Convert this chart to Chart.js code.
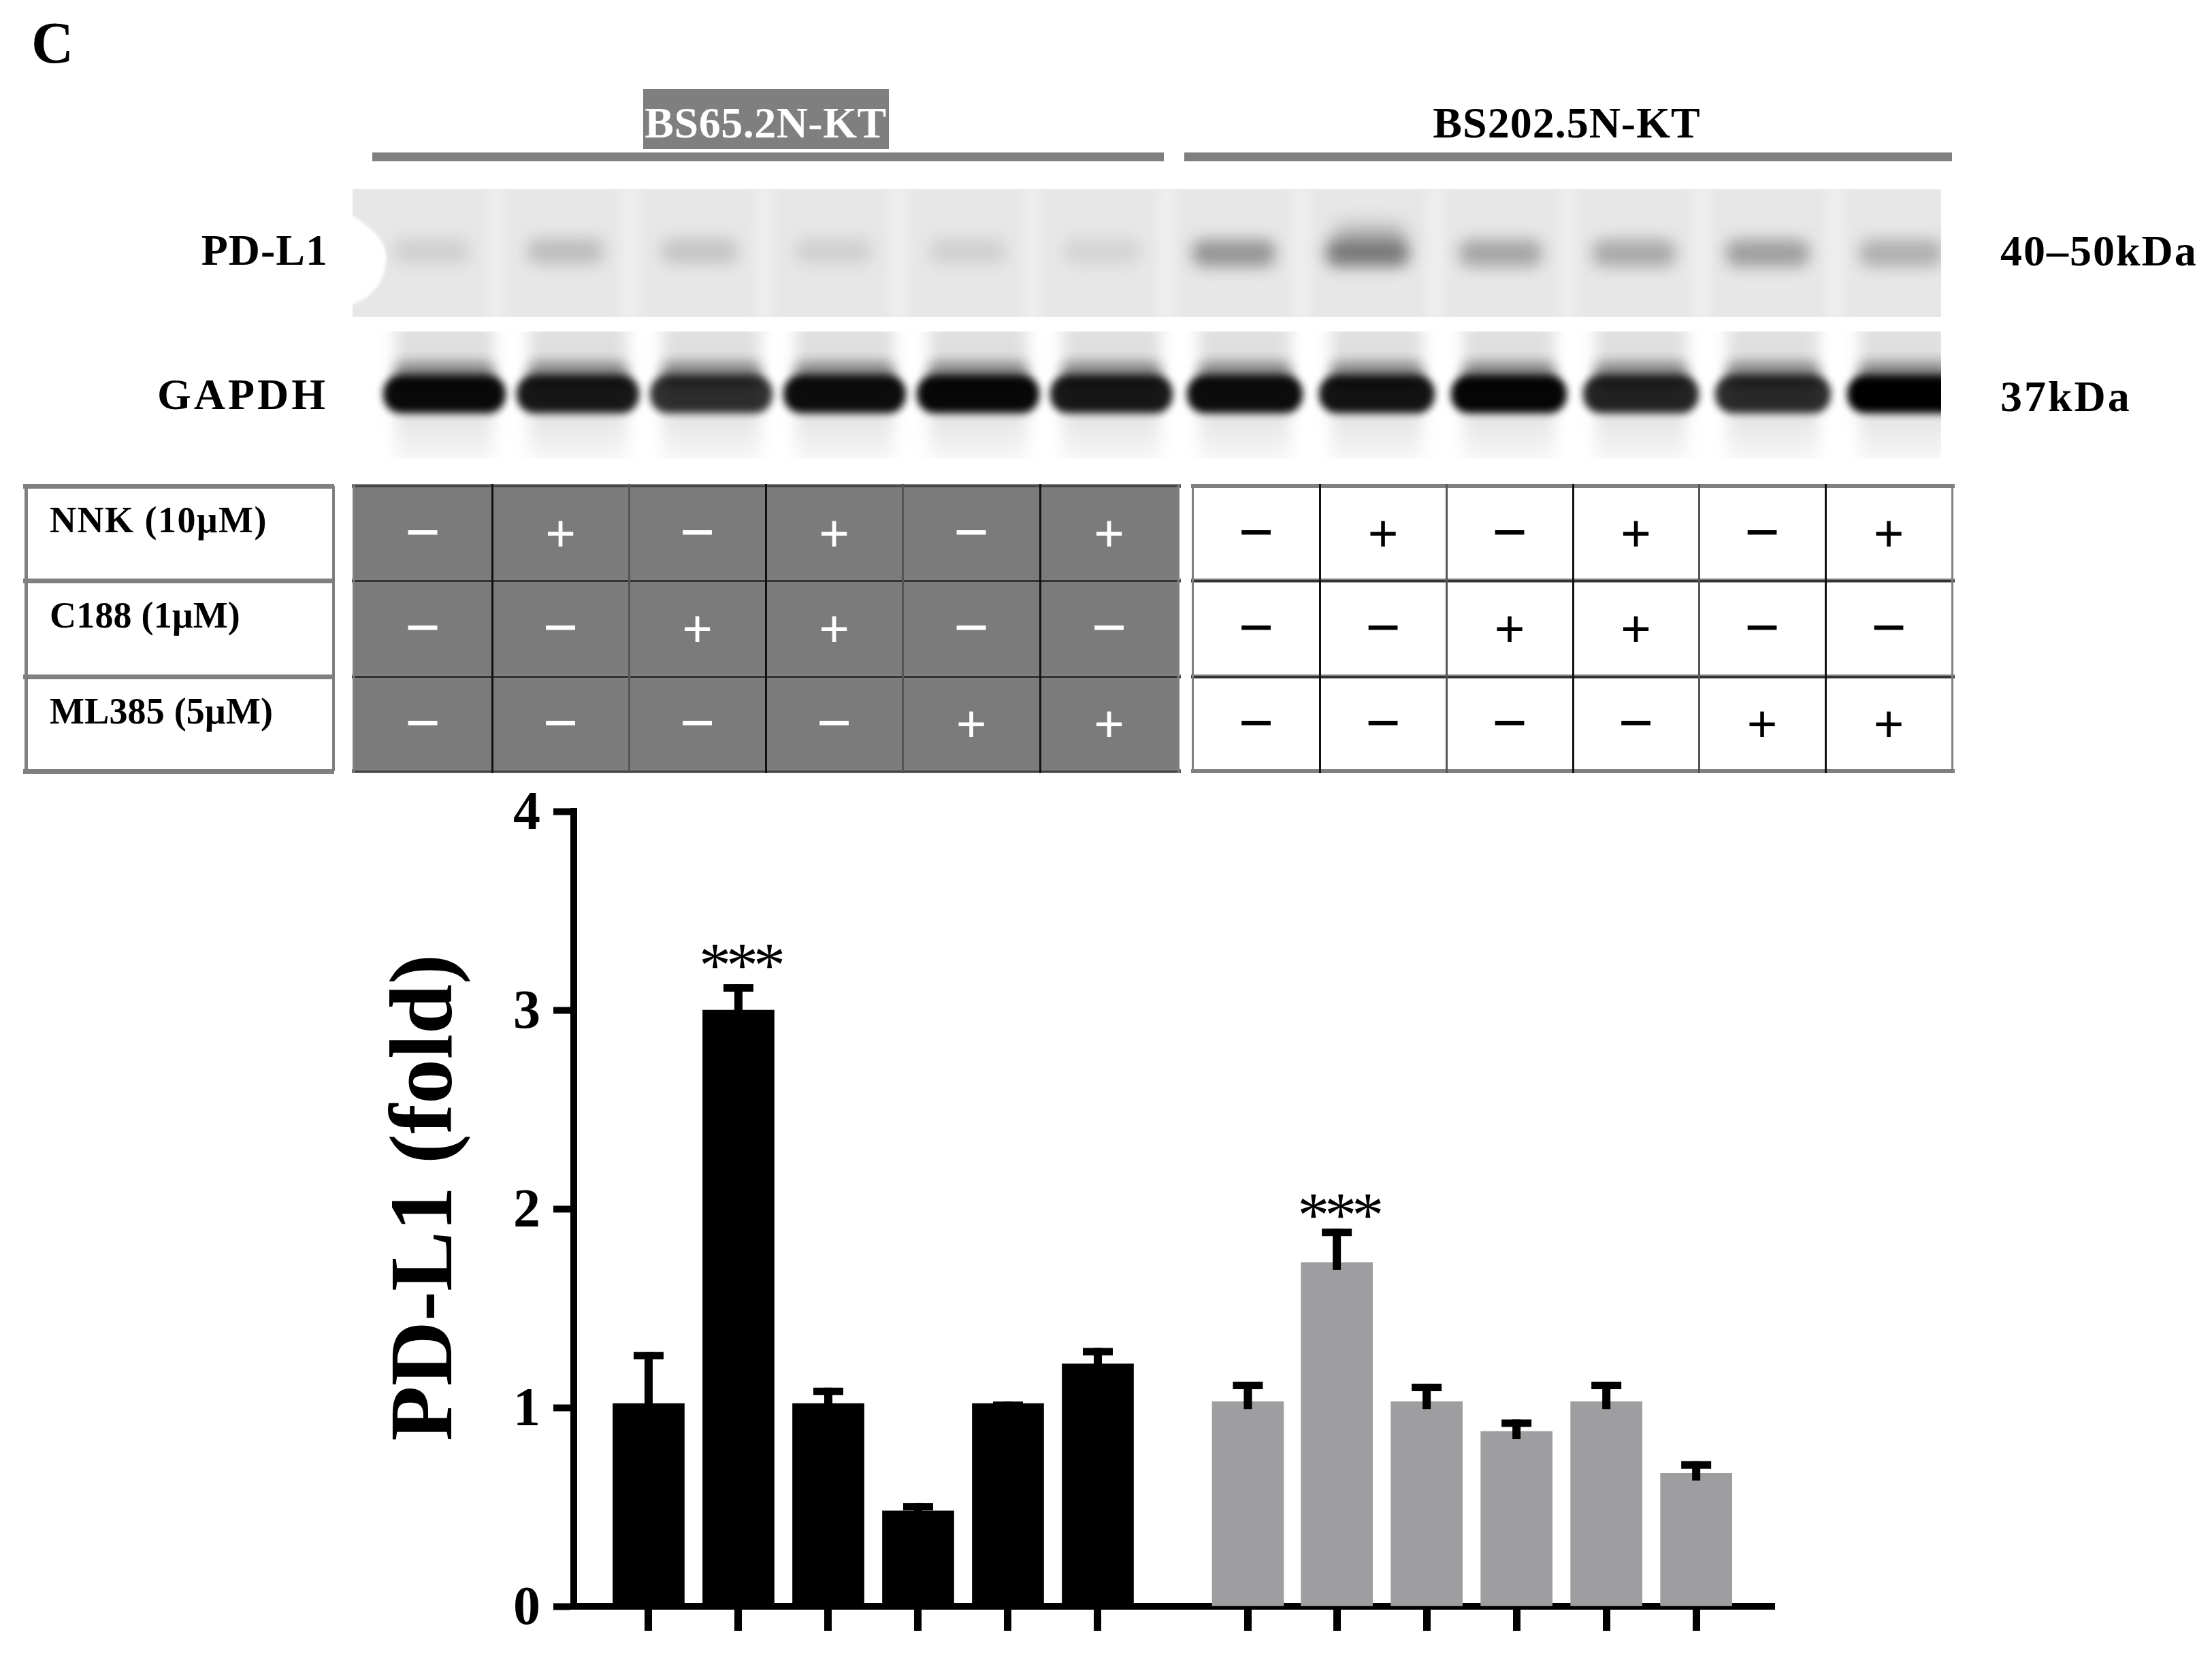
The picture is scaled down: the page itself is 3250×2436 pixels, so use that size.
<!DOCTYPE html>
<html>
<head>
<meta charset="utf-8">
<title>PD-L1 fold</title>
<script src="https://cdn.jsdelivr.net/npm/chart.js@4"></script>
<style>
  html, body { margin: 0; background: #fff; }
  #page { position: relative; width: 3250px; height: 2436px; overflow: hidden; font-family: "Liberation Serif", serif; font-weight: bold; color: #000; }
  #page div, #page canvas { position: absolute; }
  .txt { white-space: nowrap; line-height: normal; }
</style>
</head>
<body>
<div id="page">
  <canvas id="blot" width="3250" height="720" style="left:0;top:0"></canvas>
  <canvas id="myChart" width="3250" height="1311" style="left:0;top:1125px"></canvas>
</div>
<script>
// bar chart data
const blackSlots = [1, 2, 3, 4, 5, 6];
const blackValues = [1.02, 3.0, 1.02, 0.48, 1.02, 1.22];
const blackErrors = [1.28, 3.13, 1.1, 0.52, 1.03, 1.3];
const blackMarks = ['', '***', '', '', '', ''];

const graySlots = [7.67, 8.66, 9.66, 10.66, 11.66, 12.66];
const grayValues = [1.03, 1.73, 1.03, 0.88, 1.03, 0.67];
const grayErrors = [1.13, 1.9, 1.12, 0.94, 1.13, 0.73];
const grayMarks = ['', '***', '', '', '', ''];

const yTicks = [0, 1, 2, 3, 4];

// treatment table
const rowLabels = ['NNK (10μM)', 'C188 (1μM)', 'ML385 (5μM)'];
const nnkRow = ['−', '+', '−', '+', '−', '+'];
const c188Row = ['−', '−', '+', '+', '−', '−'];
const ml385Row = ['−', '−', '−', '−', '+', '+'];

// blot band darkness, 0 to 1
const pdl1Left = [0.13, 0.24, 0.2, 0.13, 0.13, 0.11];
const pdl1Right = [0.48, 0.62, 0.38, 0.36, 0.42, 0.32];
const gapdhLeft = [0.96, 0.9, 0.8, 0.95, 0.97, 0.9];
const gapdhRight = [0.95, 0.92, 0.98, 0.85, 0.82, 1];

const page = document.getElementById('page');

function text(str, x, baseline, size, opts) {
  opts = opts || {};
  const d = document.createElement('div');
  d.className = 'txt';
  d.textContent = str;
  d.style.fontSize = size + 'px';
  d.style.top = (baseline - size * 0.891) + 'px';
  if (opts.color) d.style.color = opts.color;
  if (opts.spacing) d.style.letterSpacing = opts.spacing + 'px';
  if (opts.align === 'right') d.style.right = (3250 - x) + 'px';
  else if (opts.align === 'center') { d.style.left = x + 'px'; d.style.transform = 'translateX(-50%)'; }
  else d.style.left = x + 'px';
  page.appendChild(d);
}

function box(x, y, w, h, color) {
  const d = document.createElement('div');
  d.style.cssText = 'left:' + x + 'px;top:' + y + 'px;width:' + w + 'px;height:' + h + 'px;background:' + color;
  page.appendChild(d);
}

// header
text('C', 46, 90, 86);
box(945, 131, 361, 88, '#7f7f7f');
text('BS65.2N-KT', 1125, 201, 64, { align: 'center', color: '#fff', spacing: 0.5 });
text('BS202.5N-KT', 2302, 201, 64, { align: 'center', spacing: 1 });
box(547, 224, 1163, 13, '#808080');
box(1740, 224, 1128, 13, '#808080');
text('PD-L1', 482, 388, 64, { align: 'right', spacing: 1 });
text('GAPDH', 482, 600, 64, { align: 'right', spacing: 4 });
text('40–50kDa', 2939, 389, 64, { spacing: 2 });
text('37kDa', 2939, 603, 64, { spacing: 3 });

// treatment tables
const rowLines = [714, 853, 994, 1133];
const darkCols = [519, 723, 924, 1125, 1326, 1528, 1731];
const lightCols = [1752, 1939, 2125, 2311, 2496, 2682, 2868];
const rows = [nnkRow, c188Row, ml385Row];

function drawTable(cols, dark) {
  const left = cols[0], right = cols[cols.length - 1];
  if (dark) box(left, rowLines[0], right - left, rowLines[3] - rowLines[0], '#7b7b7b');
  rowLines.forEach((y, i) => {
    box(left - 2, y - 3, right - left + 6, 6, '#808080');
    if (dark || i === 1 || i === 2) box(left - 2, y - 1, right - left + 6, 3, i === 0 || i === 3 ? '#444' : '#333');
  });
  cols.forEach((x, i) => {
    const col = (i === 0 || i === cols.length - 1) ? '#808080' : (i % 2 ? '#111' : '#555');
    box(x - 1, rowLines[0] - 3, 3, rowLines[3] - rowLines[0] + 6, col);
  });
  rows.forEach((row, r) => {
    row.forEach((s, c) => {
      const cx = (cols[c] + cols[c + 1]) / 2;
      const cy = (rowLines[r] + rowLines[r + 1]) / 2;
      text(s, cx, cy + 27, s === '+' ? 80 : 92, { align: 'center', color: dark ? '#fff' : '#000' });
    });
  });
}

// label column
rowLines.forEach(y => box(34, y - 3, 457, 7, '#808080'));
box(36, 714, 5, 419, '#808080');
box(488, 714, 4, 419, '#808080');
rowLabels.forEach((s, i) => text(s, 73, [781, 921, 1062][i], 54, { spacing: i === 0 ? 1.5 : 0.2 }));
drawTable(darkCols, true);
drawTable(lightCols, false);

// blot panels
function drawBlot() {
  const ctx = document.getElementById('blot').getContext('2d');
  const lanes = (start, step) => [0, 1, 2, 3, 4, 5].map(i => start + step * i);

  // PD-L1 membrane
  ctx.save();
  ctx.beginPath();
  ctx.rect(518, 278, 2334, 188);
  ctx.clip();
  ctx.fillStyle = '#e7e7e7';
  ctx.fillRect(518, 278, 2334, 188);
  ctx.filter = 'blur(10px)';
  ctx.fillStyle = '#f2f2f2';
  lanes(729, 197).concat(lanes(1912, 196)).forEach(x => ctx.fillRect(x - 9, 270, 18, 210));
  const pdl1Band = (cx, dens, w, top, h) => {
    ctx.filter = 'blur(11px)';
    ctx.fillStyle = 'rgba(60,60,60,' + dens + ')';
    ctx.beginPath();
    ctx.roundRect(cx - w / 2, top, w, h, 16);
    ctx.fill();
  };
  lanes(634, 197).forEach((x, i) => pdl1Band(x, pdl1Left[i], 112, 350, 38));
  lanes(1813, 196).forEach((x, i) => pdl1Band(x, pdl1Right[i], 122, 352, 40));
  ctx.filter = 'blur(14px)';
  ctx.fillStyle = 'rgba(60,60,60,.3)';
  ctx.beginPath();
  ctx.roundRect(1960, 330, 105, 30, 12);
  ctx.fill();
  // loading notch on the left edge
  ctx.filter = 'blur(2px)';
  ctx.fillStyle = '#fff';
  ctx.beginPath();
  ctx.moveTo(500, 312);
  ctx.lineTo(518, 317);
  ctx.bezierCurveTo(555, 340, 570, 360, 567, 385);
  ctx.bezierCurveTo(565, 415, 545, 438, 518, 447);
  ctx.lineTo(500, 450);
  ctx.closePath();
  ctx.fill();
  ctx.restore();

  // GAPDH membrane
  ctx.save();
  ctx.beginPath();
  ctx.rect(518, 487, 2334, 187);
  ctx.clip();
  const gapdhLane = (cx, dens, w) => {
    const smear = ctx.createLinearGradient(0, 487, 0, 674);
    smear.addColorStop(0, 'rgba(0,0,0,.12)');
    smear.addColorStop(0.5, 'rgba(0,0,0,.14)');
    smear.addColorStop(1, 'rgba(0,0,0,.03)');
    ctx.filter = 'blur(11px)';
    ctx.fillStyle = smear;
    ctx.fillRect(cx - w / 2 + 18, 470, w - 36, 210);
    ctx.filter = 'blur(9px)';
    ctx.fillStyle = 'rgba(0,0,0,.4)';
    ctx.beginPath();
    ctx.roundRect(cx - w / 2 + 16, 532, w - 32, 34, 14);
    ctx.fill();
    ctx.filter = 'blur(6px)';
    ctx.fillStyle = 'rgba(0,0,0,' + dens + ')';
    ctx.beginPath();
    ctx.roundRect(cx - w / 2, 551, w, 56, 26);
    ctx.fill();
  };
  lanes(653, 196).forEach((x, i) => gapdhLane(x, gapdhLeft[i], 180));
  lanes(1829, 194).forEach((x, i) => gapdhLane(x, gapdhRight[i], 170));
  ctx.restore();
}
drawBlot();

// error bars and significance marks, placed from the chart's own scales
const errorBars = {
  id: 'errorBars',
  afterDatasetsDraw(chart) {
    const { ctx, scales: { y } } = chart;
    const errors = [blackErrors, grayErrors];
    const marks = [blackMarks, grayMarks];
    const markDrop = [3, 11];
    errors.forEach((errs, d) => {
      chart.getDatasetMeta(d).data.forEach((bar, i) => {
        const top = y.getPixelForValue(errs[i]);
        ctx.fillStyle = '#000';
        ctx.fillRect(bar.x - 6, top, 12, bar.y - top + 11);
        ctx.fillRect(bar.x - 22, top, 44, 11);
        if (marks[d][i]) {
          ctx.font = '94px "Liberation Serif"';
          ctx.letterSpacing = '-7px';
          ctx.textAlign = 'center';
          ctx.textBaseline = 'alphabetic';
          ctx.fillText(marks[d][i], bar.x + 2, top + markDrop[d]);
          ctx.letterSpacing = '0px';
        }
      });
    });
  }
};

const toXY = (xs, ys) => xs.map((x, i) => ({ x: x, y: ys[i] }));

const config = {
  type: 'bar',
  data: {
    datasets: [{
      data: toXY(blackSlots, blackValues),
      backgroundColor: '#000',
      barThickness: 105
    }, {
      data: toXY(graySlots, grayValues),
      backgroundColor: '#9e9ea1',
      barThickness: 105
    }]
  },
  options: {
    responsive: false,
    animation: false,
    layout: { padding: { left: 550, right: 643, top: 64, bottom: 40 } },
    plugins: { legend: { display: false }, tooltip: { enabled: false } },
    scales: {
      x: {
        type: 'linear',
        stacked: true,
        offset: false,
        min: 0.167,
        max: 13.53,
        afterBuildTicks(scale) {
          scale.ticks = blackSlots.concat(graySlots).map(v => ({ value: v }));
        },
        ticks: { display: false, autoSkip: false },
        border: { color: '#000', width: 10 },
        grid: { offset: false, drawOnChartArea: false, tickLength: 36, tickWidth: 11, tickColor: '#000' }
      },
      y: {
        min: 0,
        max: 4,
        afterBuildTicks(scale) {
          scale.ticks = yTicks.map(v => ({ value: v }));
        },
        afterFit(scale) {
          scale.width = 843 - 550;
        },
        ticks: {
          padding: 19,
          labelOffset: 5,
          color: '#000',
          font: { family: '"Liberation Serif"', weight: 'bold', size: 80 }
        },
        title: {
          display: true,
          text: ' PD-L1 (fold)',
          color: '#000',
          padding: 0,
          font: { family: '"Liberation Serif"', weight: 'bold', size: 132 }
        },
        border: { color: '#000', width: 10 },
        grid: { drawOnChartArea: false, tickLength: 30, tickWidth: 10, tickColor: '#000' }
      }
    }
  },
  plugins: [errorBars]
};

const myChart = new Chart(document.getElementById('myChart'), config);
</script>
</body>
</html>
